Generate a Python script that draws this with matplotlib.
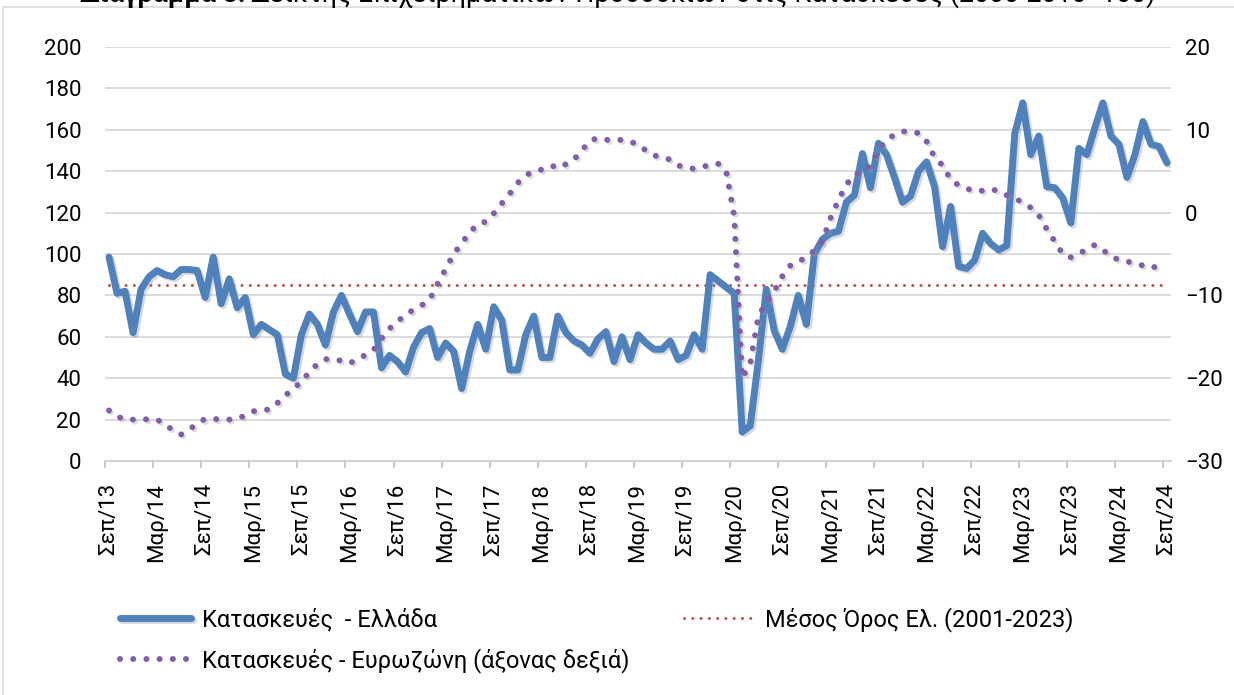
import numpy as np
import matplotlib
matplotlib.use("Agg")
import matplotlib.pyplot as plt
import matplotlib.patheffects as pe
import matplotlib.transforms as mtransforms
from matplotlib.patches import Rectangle

plt.rcParams['font.family'] = ['Roboto', 'DejaVu Sans']

# Κατασκευές - Ελλάδα (μηνιαία, Σεπ/13 - Σεπ/24), αριστερός άξονας
greece = [98.5, 81, 82, 62, 83, 89, 92, 90, 89, 92.5, 92.5, 92,
          79, 98.5, 76, 88, 74, 79, 61, 66, 63.5, 61, 42, 40,
          61, 71, 66, 56, 72, 80, 71, 62.5, 72, 72, 45, 51,
          48, 43, 55, 62, 64, 50, 57, 53, 35, 53, 66, 54,
          74.5, 68, 44, 44, 61, 70, 50, 50, 70, 62, 58, 56,
          52, 59, 62.5, 48, 60, 49, 61, 57, 54, 54, 58, 49,
          51, 61, 54, 90, 87, 84, 81, 14, 17, 48, 83, 63,
          54, 65, 80, 66, 100, 107, 110, 111, 125, 128.5, 148.5, 132,
          153.5, 148, 137, 125, 128, 140, 144.5, 132.5, 103.5, 123, 94, 93,
          97, 110, 105, 102, 104, 158, 173, 148, 157, 132.5, 132, 127,
          115, 151, 148, 161, 173, 157, 153, 137, 148, 164, 153, 152, 144]

# Κατασκευές - Ευρωζώνη, δεξιός άξονας
eurozone = [-23.9, -24.6, -25, -25, -24.9, -25, -25, -25.6, -26.3, -26.8, -26.2, -25.5,
            -24.9, -24.9, -25, -25, -24.9, -24.5, -24, -23.8, -23.8, -23, -22.1, -21.2,
            -20.5, -19.2, -18.3, -17.7, -17.7, -17.9, -18.2, -17.7, -17.2, -16.6, -15.2, -14,
            -13.1, -12.4, -11.7, -11.2, -10.5, -8.6, -6.8, -5, -3.7, -2.4, -1.4, -1.1,
            -0.1, 1.1, 2.3, 3.6, 4.5, 5.0, 5.2, 5.3, 6.0, 5.8, 6.4, 7.5,
            8.7, 9.0, 8.8, 8.7, 8.8, 8.6, 8.2, 7.5, 6.9, 6.7, 6.4, 5.7,
            5.4, 5.3, 5.5, 5.8, 5.9, 5.0, -0.4, -20, -18.2, -12.6, -10.8, -9.5,
            -7.7, -6.4, -6.0, -5.3, -4.6, -3.5, -0.7, 1.5, 3.4, 4.6, 4.8, 5.7,
            7.5, 8.8, 9.4, 9.8, 9.8, 9.6, 8.6, 6.7, 5.7, 4.0, 3.3, 2.9,
            2.6, 2.65, 2.85, 2.6, 2.1, 1.75, 1.2, 0.6, -0.3, -2.0, -3.5, -5.0,
            -5.4, -5.0, -4.4, -3.9, -4.5, -5.3, -5.7, -5.9, -6.1, -6.4, -6.7, -6.4, -6.2]

mean_greece = 85  # Μέσος Όρος Ελ. (2001-2023)

tick_labels = ['Σεπ/13', 'Μαρ/14', 'Σεπ/14', 'Μαρ/15', 'Σεπ/15', 'Μαρ/16', 'Σεπ/16',
               'Μαρ/17', 'Σεπ/17', 'Μαρ/18', 'Σεπ/18', 'Μαρ/19', 'Σεπ/19', 'Μαρ/20',
               'Σεπ/20', 'Μαρ/21', 'Σεπ/21', 'Μαρ/22', 'Σεπ/22', 'Μαρ/23', 'Σεπ/23',
               'Μαρ/24', 'Σεπ/24']
tick_step = 6

n = len(greece)
x = np.arange(n)

fig = plt.figure(figsize=(12.34, 6.95), dpi=100)
ax = fig.add_axes([105/1234, 1 - 461/695, 1066/1234, 414/695])
ax2 = ax.twinx()

shadow = [pe.SimpleLineShadow(offset=(1.5, -1.5), shadow_color='#808080', alpha=0.3), pe.Normal()]
# σκιά για τη διάστικτη γραμμή (μετατοπισμένο αντίγραφο)
offs = mtransforms.offset_copy(ax2.transData, fig=fig, x=1.5, y=-1.5, units='points')

l1, = ax.plot(x, greece, color='#4F81BD', lw=5, solid_joinstyle='round',
              solid_capstyle='round', path_effects=shadow, zorder=3,
              label='Κατασκευές  - Ελλάδα')
l3, = ax.plot(x, [mean_greece] * n, color='#C0504D', lw=2.2,
              linestyle=(0, (0.01, 2.7)), dash_capstyle='round', zorder=2,
              label='Μέσος Όρος Ελ. (2001-2023)')
ax2.plot(x, eurozone, color='#A0A0A0', alpha=0.35, lw=4.3, transform=offs,
         linestyle=(0, (0.01, 2.2)), dash_capstyle='round', zorder=2)
l2, = ax2.plot(x, eurozone, color='#7F60A8', lw=4.3,
               linestyle=(0, (0.01, 2.2)), dash_capstyle='round', zorder=3,
               label='Κατασκευές - Ευρωζώνη (άξονας δεξιά)')

ax.set_xlim(-0.5, n - 0.5)
ax.set_ylim(0, 200)
ax.set_yticks(np.arange(0, 201, 20))
ax2.set_ylim(-30, 20)
ax2.set_yticks(np.arange(-30, 21, 10))

ax.set_xticks(x[::tick_step])
ax.set_xticklabels(tick_labels, rotation=90, fontsize=16)
ax.set_xticks(np.arange(-0.5, n, tick_step), minor=True)
ax.tick_params(axis='x', which='major', length=0, pad=16)
ax.tick_params(axis='x', which='minor', length=5, color='#BFBFBF', width=1.2)
ax.tick_params(axis='y', length=0, pad=17, labelsize=16)
ax2.tick_params(axis='y', length=0, pad=10, labelsize=16)

ax.yaxis.grid(True, color='#D9D9D9', lw=1.3)
ax.set_axisbelow(True)
for s in ['top', 'left', 'right']:
    ax.spines[s].set_visible(False)
    ax2.spines[s].set_visible(False)
ax.spines['bottom'].set_color('#D0D0D0')
ax.spines['bottom'].set_linewidth(1.3)
ax2.spines['bottom'].set_visible(False)

fig.legend(handles=[l1, l2, l3], ncol=2, loc='upper left',
           bbox_to_anchor=(99/1234, 1 - 586/695), frameon=False,
           fontsize=17, handlelength=3.0, handletextpad=0.45,
           columnspacing=2.3, labelspacing=0.7)

# τίτλος (κομμένος στο πάνω μέρος)
fig.canvas.draw()
t1 = fig.text(80/1234, 1 - 2/695, 'Διάγραμμα 8:', fontsize=19.3, fontweight='bold',
              va='baseline', ha='left')
bb = t1.get_window_extent(renderer=fig.canvas.get_renderer())
fig.text(bb.x1/1234 + 6/1234, 1 - 2/695,
         'Δείκτης Επιχειρηματικών Προσδοκιών στις Κατασκευές (2000-2010=100)',
         fontsize=19.3, va='baseline', ha='left')

fig.patches.append(Rectangle((3/1234, -0.1), 1.2, 1.1 - 7/695, transform=fig.transFigure,
                             fill=False, ec='#D9D9D9', lw=1.2))

fig.savefig('out.png', dpi=100)
